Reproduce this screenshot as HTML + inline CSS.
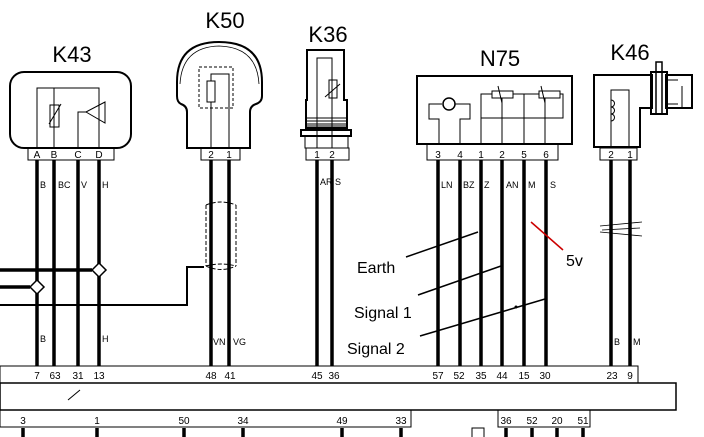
<!DOCTYPE html>
<html><head><style>body{margin:0;background:#fff}svg{display:block}</style></head><body>
<svg width="704" height="437" viewBox="0 0 704 437" xmlns="http://www.w3.org/2000/svg" font-family="Liberation Sans, sans-serif">
<g fill="none" stroke="#000">
<!-- K43 -->
<rect x="10" y="72" width="121" height="76" rx="14" stroke-width="2"/>
<rect x="28" y="148" width="86" height="12" stroke-width="1"/>
<path d="M37 148V88H99V148M54 88V148M78 148V112H86L105 102V123L86 112" stroke-width="1"/>
<rect x="50" y="105" width="9" height="22" stroke-width="1"/>
<path d="M49 124L61 104" stroke-width="1"/>
<!-- K50 -->
<path d="M187 148V112Q187 106 181 104Q177 102 177 96V82Q177 42 219 42Q262 42 262 82V96Q262 102 256 104Q250 106 250 112V148Z" stroke-width="2"/>
<path d="M180 84Q182 47 219 46Q257 47 259 84" stroke-width="0.8"/>
<rect x="199" y="67" width="34" height="41" stroke-width="1" stroke-dasharray="3,2"/>
<rect x="207" y="81" width="8" height="21" stroke-width="1"/>
<path d="M211 81V74H229V148M211 102V148" stroke-width="1"/>
<rect x="201" y="148" width="39" height="12" stroke-width="1"/>
<!-- K36 -->
<path d="M307 50H344V100H347V128H306V100H307Z" stroke-width="2"/>
<path d="M306 118H347M306 121H347M306 124H347M306 126H347" stroke-width="1"/>
<rect x="301" y="130" width="50" height="6" stroke-width="2"/>
<rect x="305" y="136" width="43" height="12" stroke-width="1"/>
<path d="M317 148V58H332V148" stroke-width="1"/>
<rect x="329" y="80" width="8" height="18" stroke-width="1"/>
<path d="M325 97L340 84" stroke-width="1"/>
<rect x="306" y="148" width="43" height="12" stroke-width="1"/>
<!-- N75 -->
<rect x="417" y="76" width="155" height="68" stroke-width="2"/>
<rect x="427" y="144" width="131" height="16" stroke-width="1"/>
<path d="M439 144V119H429V104H442M455 104H470V119H460V144" stroke-width="1"/>
<circle cx="449" cy="104" r="6" stroke-width="1.5"/>
<path d="M481 144V94H492M513 94H539M560 94H563V118H481M524 94V144M502 98V144M545 98V144" stroke-width="1"/>
<rect x="492" y="91" width="21" height="7" stroke-width="1"/>
<rect x="539" y="91" width="21" height="7" stroke-width="1"/>
<path d="M502 103L498 86M545 103L541 86" stroke-width="1"/>
<!-- K46 -->
<path d="M594 75H652V108H640V147H594Z" stroke-width="2"/>
<rect x="600" y="148" width="37" height="12" stroke-width="1"/>
<path d="M611 148V90H629V148" stroke-width="1"/>
<path d="M611 100a3 3 0 0 1 0 7a3 3 0 0 1 0 7a3 3 0 0 1 0 7" stroke-width="1"/>
<rect x="651" y="72" width="16" height="42" stroke-width="2"/>
<rect x="666" y="75" width="26" height="33" stroke-width="2"/>
<rect x="656" y="62" width="6" height="52" stroke-width="1.5"/>
<path d="M667 80H678M667 104H678M682 86V108" stroke-width="1"/>
<!-- wires -->
<g stroke-width="3.5">
<path d="M37 160V366M54 160V366M78 160V366M99 160V366M211 160V366M229 160V366M317 160V366M332 160V366M438 160V366M460 160V366M481 160V366M502 160V366M524 160V366M546 160V366M611 160V366M630 160V366"/>
<path d="M23 428V437M97 428V437M184 428V437M243 428V437M342 428V437M401 428V437M506 428V437M532 428V437M557 428V437M583 428V437"/>
<path d="M0 270H92M0 287H30" />
</g>
<path d="M0 305H187V267H204" stroke-width="2"/>
<path d="M92 270L99 263L106 270L99 277ZM30 287L37 280L44 287L37 294Z" fill="#fff" stroke-width="1.5"/>
<path d="M206 205V266M236 205V266M206 205Q221 199 236 205M206 266Q221 273 236 266M206 266Q221 262 236 266" stroke-width="1" stroke-dasharray="4,2"/>
<path d="M600 226L642 222M600 232L642 236M602 230L640 228" stroke-width="0.8"/>
<!-- strips -->
<rect x="0" y="366" width="638" height="17" stroke-width="1"/>
<rect x="0" y="383" width="676" height="27" stroke-width="1.5"/>
<rect x="0" y="410" width="411" height="17" stroke-width="1"/>
<rect x="498" y="410" width="92" height="17" stroke-width="1"/>
<rect x="472" y="428" width="12" height="12" stroke-width="1"/>
<path d="M68 400L80 390" stroke-width="1"/>
<!-- annotations -->
<path d="M406 257L478 232M418 295L501 266M420 336L545 299" stroke-width="1.5"/>
<path d="M531 222L563 250" stroke="#c00" stroke-width="1.5"/>
</g>
<circle cx="516" cy="307" r="1.5"/>
<g font-size="22" text-anchor="middle">
<text x="72" y="62">K43</text><text x="225" y="28">K50</text><text x="328" y="42">K36</text><text x="500" y="66">N75</text><text x="630" y="60">K46</text>
</g>
<g font-size="16">
<text x="357" y="273">Earth</text><text x="354" y="318">Signal 1</text><text x="347" y="354">Signal 2</text><text x="566" y="266">5v</text>
</g>
<g font-size="10" text-anchor="middle">
<text x="37" y="158">A</text><text x="54" y="158">B</text><text x="78" y="158">C</text><text x="99" y="158">D</text>
<text x="211" y="158">2</text><text x="229" y="158">1</text><text x="317" y="158">1</text><text x="332" y="158">2</text>
<text x="438" y="158">3</text><text x="460" y="158">4</text><text x="481" y="158">1</text><text x="502" y="158">2</text><text x="524" y="158">5</text><text x="546" y="158">6</text>
<text x="611" y="158">2</text><text x="630" y="158">1</text>
<text x="37" y="379">7</text><text x="55" y="379">63</text><text x="78" y="379">31</text><text x="99" y="379">13</text><text x="211" y="379">48</text><text x="230" y="379">41</text><text x="317" y="379">45</text><text x="334" y="379">36</text>
<text x="438" y="379">57</text><text x="459" y="379">52</text><text x="481" y="379">35</text><text x="502" y="379">44</text><text x="524" y="379">15</text><text x="545" y="379">30</text><text x="612" y="379">23</text><text x="630" y="379">9</text>
<text x="23" y="424">3</text><text x="97" y="424">1</text><text x="184" y="424">50</text><text x="243" y="424">34</text><text x="342" y="424">49</text><text x="401" y="424">33</text>
<text x="506" y="424">36</text><text x="532" y="424">52</text><text x="557" y="424">20</text><text x="583" y="424">51</text>
</g>
<g font-size="9">
<text x="40" y="188">B</text><text x="58" y="188">BC</text><text x="81" y="188">V</text><text x="102" y="188">H</text>
<text x="320" y="185">AR</text><text x="335" y="185">S</text>
<text x="441" y="188">LN</text><text x="463" y="188">BZ</text><text x="484" y="188">Z</text><text x="506" y="188">AN</text><text x="528" y="188">M</text><text x="550" y="188">S</text>
<text x="40" y="342">B</text><text x="102" y="342">H</text><text x="213" y="345">VN</text><text x="233" y="345">VG</text><text x="614" y="345">B</text><text x="633" y="345">M</text>
</g>
</svg>
</body></html>
